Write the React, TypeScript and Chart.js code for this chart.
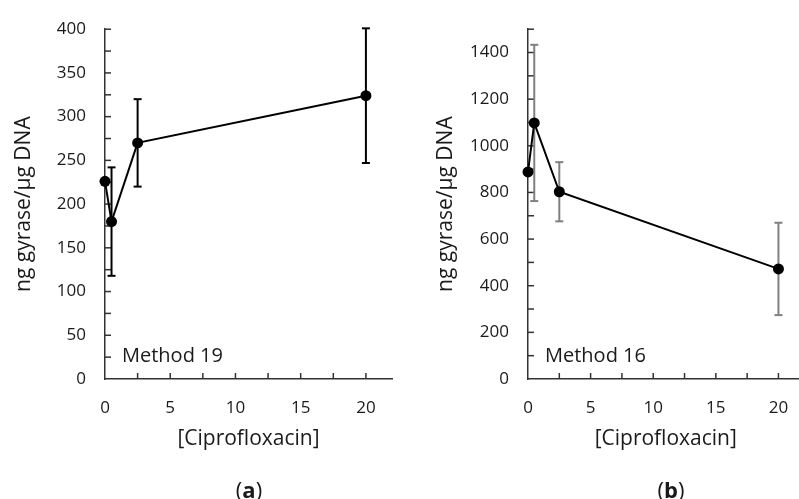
import React, { useEffect, useRef } from "react";
import { Chart, registerables } from "chart.js";

Chart.register(...registerables);

// ---- data ----
const concentrations = [0, 0.5, 2.5, 20];
const method19Values = [226, 180, 270, 324];
const method19Errors = [0, 62, 50, 77];
const method16Values = [888, 1098, 803, 472];
const method16Errors = [0, 335, 127, 198];

const xTickValues = [0, 5, 10, 15, 20];
const yTickValuesA = [0, 50, 100, 150, 200, 250, 300, 350, 400];
const yTickValuesB = [0, 200, 400, 600, 800, 1000, 1200, 1400];

const xAxisTitle = "[Ciprofloxacin]";
const yAxisTitle = "ng gyrase/\u03bcg DNA";

// ---- styles ----
const FONT = "'Open Sans', sans-serif";
const TEXT = "#1a1a1a";
const AXIS = "#333333";

type PanelCfg = {
  values: number[];
  errors: number[];
  errColor: string;
  yMax: number;
  yTicks: number[];
  yMinorStep: number;
  xMax: number;
  xMinorStep: number;
  yAxisWidth: number;
  yTitlePad: number;
  padTop: number;
  padRight: number;
  label: string;
};

function buildConfig(p: PanelCfg): any {
  const overlay = {
    id: "overlay",
    beforeDatasetsDraw(chart: any) {
      const { ctx, chartArea } = chart;
      const x = chart.scales.x;
      const y = chart.scales.y;
      const line = (x1: number, y1: number, x2: number, y2: number) => {
        ctx.beginPath();
        ctx.moveTo(x1, y1);
        ctx.lineTo(x2, y2);
        ctx.stroke();
      };
      ctx.save();
      ctx.strokeStyle = AXIS;
      ctx.lineWidth = 1.5;
      for (let v = p.xMinorStep; v <= p.xMax + 1e-9; v += p.xMinorStep) {
        const px = x.getPixelForValue(v);
        line(px, chartArea.bottom, px, chartArea.bottom - 6);
      }
      for (let v = p.yMinorStep; v <= p.yMax + 1e-9; v += p.yMinorStep) {
        const py = y.getPixelForValue(v);
        line(chartArea.left, py, chartArea.left + 6, py);
      }
      ctx.strokeStyle = p.errColor;
      ctx.lineWidth = 2;
      p.values.forEach((val, i) => {
        const e = p.errors[i];
        if (!e) return;
        const px = x.getPixelForValue(concentrations[i]);
        const top = y.getPixelForValue(val + e);
        const bot = y.getPixelForValue(val - e);
        line(px, top, px, bot);
        line(px - 4, top, px + 4, top);
        line(px - 4, bot, px + 4, bot);
      });
      ctx.fillStyle = TEXT;
      ctx.font = `20px ${FONT}`;
      ctx.textAlign = "left";
      ctx.textBaseline = "alphabetic";
      ctx.fillText(p.label, chartArea.left + 17, chartArea.bottom - 17);
      ctx.restore();
    },
  };

  return {
    type: "scatter",
    data: {
      datasets: [
        {
          data: concentrations.map((c, i) => ({ x: c, y: p.values[i] })),
          showLine: true,
          borderColor: "#000",
          borderWidth: 2,
          backgroundColor: "#000",
          pointRadius: 5.5,
          pointBorderWidth: 0,
          pointBackgroundColor: "#000",
          clip: false,
        },
      ],
    },
    options: {
      responsive: false,
      animation: false,
      devicePixelRatio: 1,
      layout: { padding: { top: p.padTop, right: p.padRight, left: 0, bottom: 0 } },
      plugins: { legend: { display: false }, tooltip: { enabled: false } },
      scales: {
        x: {
          type: "linear",
          min: 0,
          max: p.xMax,
          afterBuildTicks: (s: any) => {
            s.ticks = xTickValues.map((v) => ({ value: v }));
          },
          afterFit: (s: any) => {
            s.height = 120;
          },
          grid: { drawOnChartArea: false, drawTicks: false },
          border: { display: true, color: AXIS, width: 1.5 },
          ticks: {
            font: { family: FONT, size: 17 },
            color: TEXT,
            padding: 19,
            maxRotation: 0,
            callback: (v: any) => String(v),
          },
          title: {
            display: true,
            text: xAxisTitle,
            font: { family: FONT, size: 21 },
            color: TEXT,
            padding: { top: 0, bottom: 47 },
          },
        },
        y: {
          type: "linear",
          min: 0,
          max: p.yMax,
          afterBuildTicks: (s: any) => {
            s.ticks = p.yTicks.map((v) => ({ value: v }));
          },
          afterFit: (s: any) => {
            s.width = p.yAxisWidth;
          },
          grid: { drawOnChartArea: false, drawTicks: false },
          border: { display: true, color: AXIS, width: 1.5 },
          ticks: {
            font: { family: FONT, size: 17 },
            color: TEXT,
            padding: 19,
            callback: (v: any) => String(v),
          },
          title: {
            display: true,
            text: yAxisTitle,
            font: { family: FONT, size: 21 },
            color: TEXT,
            padding: { top: p.yTitlePad, bottom: 0 },
          },
        },
      },
    },
    plugins: [overlay],
  };
}

function Panel(props: { cfg: PanelCfg; width: number; left: number }) {
  const ref = useRef<HTMLCanvasElement | null>(null);
  useEffect(() => {
    if (!ref.current) return;
    const chart = new Chart(ref.current, buildConfig(props.cfg));
    return () => chart.destroy();
  }, []);
  return (
    <canvas
      ref={ref}
      width={props.width}
      height={499}
      style={{ position: "absolute", left: props.left, top: 0, width: props.width, height: 499, display: "block" }}
    />
  );
}

const panelA: PanelCfg = {
  values: method19Values,
  errors: method19Errors,
  errColor: "#000",
  yMax: 400,
  yTicks: yTickValuesA,
  yMinorStep: 25,
  xMax: 22,
  xMinorStep: 2.5,
  yAxisWidth: 105,
  yTitlePad: 11,
  padTop: 21,
  padRight: 8,
  label: "Method 19",
};

const panelB: PanelCfg = {
  values: method16Values,
  errors: method16Errors,
  errColor: "#808080",
  yMax: 1500,
  yTicks: yTickValuesB,
  yMinorStep: 100,
  xMax: 22,
  xMinorStep: 2.5,
  yAxisWidth: 128,
  yTitlePad: 33,
  padTop: 17,
  padRight: 0,
  label: "Method 16",
};

function Caption(props: { letter: string; x: number; y: number }) {
  return (
    <div
      style={{
        position: "absolute",
        left: props.x,
        top: props.y,
        transform: "translate(-50%, -50%)",
        fontFamily: FONT,
        fontSize: 22,
        lineHeight: 1,
        color: TEXT,
        whiteSpace: "nowrap",
      }}
    >
      (<b>{props.letter}</b>)
    </div>
  );
}

export default function App() {
  return (
    <div
      style={{
        position: "absolute",
        left: 0,
        top: 0,
        width: 799,
        height: 499,
        overflow: "hidden",
        background: "#fff",
      }}
    >
      <Panel cfg={panelA} width={400} left={0} />
      <Panel cfg={panelB} width={409} left={400} />
      <Caption letter="a" x={249} y={489} />
      <Caption letter="b" x={671} y={489} />
    </div>
  );
}
